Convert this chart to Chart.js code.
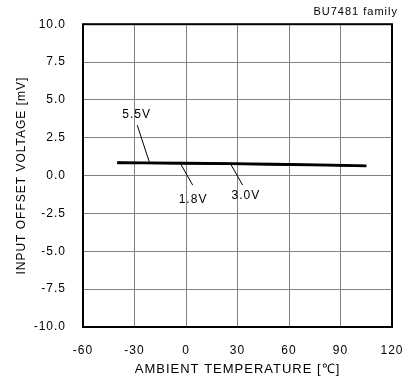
<!DOCTYPE html>
<html>
<head>
<meta charset="utf-8">
<script src="https://cdn.jsdelivr.net/npm/chart.js@4"></script>
<style>
  html, body { margin: 0; padding: 0; background: #fff; }
  #wrap { width: 402px; height: 387px; position: relative; }
</style>
</head>
<body>
<div id="wrap"><canvas id="chart"></canvas></div>
<script>
// temperatures (°C)
const temps = [-40, -25, 0, 25, 50, 85, 105];
// input offset voltage (mV) for each supply voltage
const vos18 = [0.82, 0.81, 0.79, 0.76, 0.72, 0.66, 0.61];
const vos30 = [0.85, 0.84, 0.82, 0.79, 0.75, 0.69, 0.64];
const vos55 = [0.88, 0.87, 0.85, 0.82, 0.78, 0.72, 0.67];
// labels: [text, label x, label y, line x1, y1, x2, y2] in data units
const curveLabels = [
  ['5.5V', -28.8, 4.0, -28.4, 3.33, -21.4, 0.91],
  ['1.8V', 4.1, -1.57, -3.5, 0.85, 3.9, -0.63],
  ['3.0V', 34.9, -1.35, 25.6, 0.85, 33.0, -0.63]
];

Chart.defaults.font.family = '"Liberation Sans", Arial, sans-serif';
Chart.defaults.color = '#000';

const mkSet = (label, data) => ({
  label: label,
  data: temps.map((t, i) => ({ x: t, y: data[i] })),
  borderColor: '#000',
  borderWidth: 2,
  pointRadius: 0,
  tension: 0
});

const extras = {
  id: 'extras',
  beforeInit(chart) { chart.ctx.letterSpacing = '1px'; },
  beforeDraw(chart) { chart.ctx.letterSpacing = '1px'; },
  afterDatasetsDraw(chart) {
    const { ctx, scales: { x, y }, chartArea: a } = chart;
    ctx.save();
    // frame
    ctx.strokeStyle = '#000';
    ctx.lineWidth = 2;
    ctx.strokeRect(a.left, a.top, a.right - a.left, a.bottom - a.top);
    // curve labels
    ctx.lineWidth = 1;
    ctx.font = '12px "Liberation Sans", Arial, sans-serif';
    ctx.fillStyle = '#000';
    ctx.textAlign = 'center';
    ctx.textBaseline = 'middle';
    curveLabels.forEach(l => {
      ctx.fillText(l[0], x.getPixelForValue(l[1]), y.getPixelForValue(l[2]));
      ctx.beginPath();
      ctx.moveTo(x.getPixelForValue(l[3]), y.getPixelForValue(l[4]));
      ctx.lineTo(x.getPixelForValue(l[5]), y.getPixelForValue(l[6]));
      ctx.stroke();
    });
    // family note
    ctx.font = '11px "Liberation Sans", Arial, sans-serif';
    ctx.textAlign = 'right';
    ctx.fillText('BU7481 family', 398, 12);
    ctx.restore();
  }
};

new Chart(document.getElementById('chart'), {
  type: 'line',
  data: { datasets: [mkSet('1.8V', vos18), mkSet('3.0V', vos30), mkSet('5.5V', vos55)] },
  options: {
    responsive: true,
    maintainAspectRatio: false,
    animation: false,
    layout: { padding: { top: 24, right: 10, left: 0, bottom: 0 } },
    plugins: { legend: { display: false }, tooltip: { enabled: false } },
    scales: {
      x: {
        type: 'linear', min: -60, max: 120,
        afterFit: s => { s.height = 60; s.paddingLeft = 0; s.paddingRight = 0; },
        ticks: { stepSize: 30, padding: 16, font: { size: 12 }, color: '#000' },
        grid: { color: '#808080', lineWidth: 1, drawTicks: false },
        border: { display: false },
        title: { display: true, text: 'AMBIENT TEMPERATURE [\u2103]', font: { size: 13 }, color: '#000', padding: { top: 0, bottom: 10 } }
      },
      y: {
        min: -10, max: 10,
        afterFit: s => { s.width = 83; },
        ticks: { stepSize: 2.5, padding: 17, font: { size: 12 }, color: '#000',
                 callback: v => v.toFixed(1) },
        grid: { color: '#808080', lineWidth: 1, drawTicks: false },
        border: { display: false },
        title: { display: true, text: 'INPUT OFFSET VOLTAGE [mV]', font: { size: 12 }, color: '#000', padding: { top: 14, bottom: 4 } }
      }
    }
  },
  plugins: [extras]
});
</script>
</body>
</html>
